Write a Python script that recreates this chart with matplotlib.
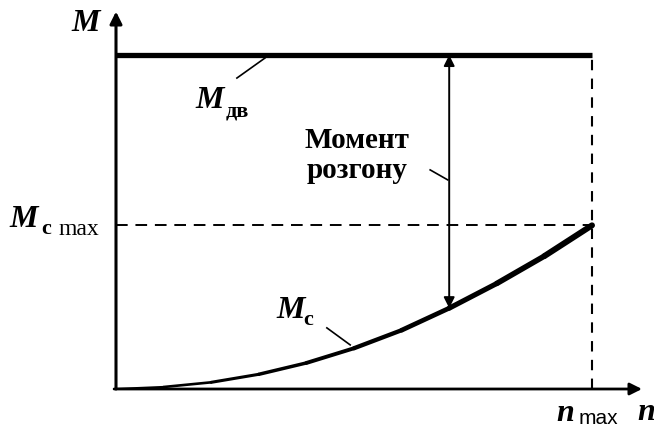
import matplotlib
matplotlib.use("Agg")
import matplotlib.pyplot as plt
from matplotlib.collections import LineCollection

# speed (fraction of n_max) and resisting torque M_c
n_points = [0.0, 0.1, 0.2, 0.3, 0.4, 0.5, 0.6, 0.7, 0.8, 0.9, 1.0]
mc_points = [0.0, 0.006, 0.02, 0.044, 0.078, 0.122, 0.176, 0.242, 0.316, 0.398, 0.49]
# the printed curve gets heavier towards n_max
curve_widths = [1.6, 1.9, 2.2, 2.5, 2.8, 3.1, 3.4, 3.7, 4.0, 4.3]

m_dv = 1.0        # motor torque, constant
mc_max = 0.49     # M_c at n_max
n_max = 1.0
n_accel = 0.70    # where the "Момент розгону" arrow is drawn

x_end = 1.12
y_end = 1.14

W, H = 654, 430
fig = plt.figure(figsize=(W / 100, H / 100), dpi=100)
fig.patch.set_facecolor("white")
# data (0,0) sits at pixel (116, 389), (1,1) at (592, 55)
ax = fig.add_axes([116 / W, 41 / H, x_end * 476 / W, y_end * 334 / H])
ax.set_xlim(0, x_end)
ax.set_ylim(0, y_end)
ax.axis("off")

serif = "Liberation Serif"

# axes with arrows
ax.annotate("", xy=(0, y_end - 0.01), xytext=(0, 0),
            arrowprops=dict(arrowstyle="-|>", lw=2.2, color="black",
                            mutation_scale=18, shrinkA=0, shrinkB=0))
ax.annotate("", xy=(1.105, 0), xytext=(-0.004, 0),
            arrowprops=dict(arrowstyle="-|>", lw=2.0, color="black",
                            mutation_scale=18, shrinkA=0, shrinkB=0))

# motor torque
ax.plot([0, n_max], [m_dv, m_dv], color="black", lw=3.8, solid_capstyle="butt")

# dashed guides
ax.plot([n_max, n_max], [0, m_dv], color="black", lw=1.5, ls=(0, (5, 4)))
ax.plot([0, n_max], [mc_max, mc_max], color="black", lw=1.4, ls=(0, (6, 4)))

# resisting torque curve
segs = [[(n_points[i], mc_points[i]), (n_points[i + 1], mc_points[i + 1])]
        for i in range(len(n_points) - 1)]
ax.add_collection(LineCollection(segs, linewidths=curve_widths, colors="black",
                                 capstyle="round"))

# accelerating torque double arrow
mc_at = mc_points[n_points.index(n_accel)]
ax.annotate("", xy=(n_accel, m_dv), xytext=(n_accel, mc_at),
            arrowprops=dict(arrowstyle="<|-|>", lw=1.4, color="black",
                            mutation_scale=16, shrinkA=0, shrinkB=0))

# leader lines
ax.plot([0.254, 0.313], [0.931, 0.991], color="black", lw=1.2)
ax.plot([0.66, 0.697], [0.656, 0.626], color="black", lw=1.2)
ax.plot([0.443, 0.492], [0.183, 0.132], color="black", lw=1.2)

big = dict(family=serif, fontweight="bold", fontstyle="italic", fontsize=23,
           ha="center", va="center")
sub = dict(family=serif, fontweight="bold", fontsize=16, ha="center", va="center")

ax.text(-0.063, 1.093, "M", **big)
ax.text(0.197, 0.865, "M", **big)
ax.text(0.255, 0.832, "дв", **sub)
ax.text(-0.193, 0.506, "M", **big)
ax.text(-0.146, 0.478, "c", **sub)
ax.text(-0.078, 0.478, "max", family=serif, fontsize=17, ha="center", va="center")
ax.text(0.366, 0.234, "M", **big)
ax.text(0.404, 0.208, "c", **sub)
ax.text(0.943, -0.072, "n", **big)
ax.text(1.014, -0.087, "max", family="Liberation Sans", fontsize=15,
        ha="center", va="center")
ax.text(1.113, -0.069, "n", **big)

ax.text(0.507, 0.70, "Момент\nрозгону", family=serif, fontweight="bold",
        fontsize=21, ha="center", va="center", linespacing=1.15)

fig.savefig("out.png", dpi=100, facecolor="white")
